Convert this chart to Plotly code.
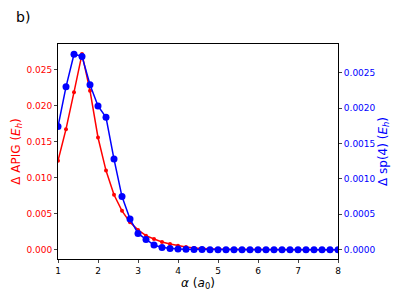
import plotly.graph_objects as go

alpha = [1.0, 1.2, 1.4, 1.6, 1.8, 2.0, 2.2, 2.4, 2.6, 2.8, 3.0, 3.2, 3.4, 3.6, 3.8,
         4.0, 4.2, 4.4, 4.6, 4.8, 5.0, 5.2, 5.4, 5.6, 5.8, 6.0, 6.2, 6.4, 6.6, 6.8,
         7.0, 7.2, 7.4, 7.6, 7.8, 8.0]
apig = [0.01236, 0.01676, 0.0219, 0.0272, 0.0221, 0.0156, 0.0110, 0.00764, 0.0054, 0.0038,
        0.00275, 0.00194, 0.00148, 0.00106, 0.00079, 0.00056, 0.00037, 0.00023, 0.00015, 0.0001,
        0.00006, 0.00004, 0.00003, 0.00002, 0.00001, 0.00001, 0.0, 0.0, 0.0, 0.0,
        0.0, 0.0, 0.0, 0.0, 0.0, 0.0]
sp4 = [0.00174, 0.0023, 0.00276, 0.00273, 0.00233, 0.00203, 0.00187, 0.00128, 0.00075, 0.000433,
       0.00023, 0.000146, 0.000066, 0.000033, 0.000019, 0.00001, 0.000005, 0.000003, 0.000002, 0.000001,
       0.0, 0.0, 0.0, 0.0, 0.0, 0.0, 0.0, 0.0, 0.0, 0.0,
       0.0, 0.0, 0.0, 0.0, 0.0, 0.0]
left_ticks = [0.0, 0.005, 0.01, 0.015, 0.02, 0.025]
right_ticks = [0.0, 0.0005, 0.001, 0.0015, 0.002, 0.0025]
x_ticks = [1, 2, 3, 4, 5, 6, 7, 8]

FONT = "DejaVu Sans"

fig = go.Figure()
fig.add_trace(go.Scatter(x=alpha, y=apig, mode="lines+markers",
                         line=dict(color="red", width=1.5),
                         marker=dict(color="red", size=4, symbol="circle"),
                         yaxis="y", showlegend=False))
fig.add_trace(go.Scatter(x=alpha, y=sp4, mode="lines+markers",
                         line=dict(color="blue", width=1.5),
                         marker=dict(color="blue", size=7, symbol="circle"),
                         yaxis="y2", showlegend=False))

fig.update_layout(
    width=395, height=294,
    margin=dict(l=50, r=65, t=36, b=43, autoexpand=False),
    paper_bgcolor="white", plot_bgcolor="white",
    font=dict(family=FONT, size=9, color="black"),
    xaxis=dict(range=[1, 8], tickvals=x_ticks, ticks="outside", ticklen=3,
               showline=True, linecolor="black", linewidth=1, mirror=True,
               showgrid=False, zeroline=False, automargin=False,
               tickfont=dict(size=9, color="black"),
               title=dict(text="<i>α</i> (<i>a</i><sub>0</sub>)", font=dict(size=12, color="black"), standoff=3)),
    yaxis=dict(range=[-0.0013, 0.0286], tickvals=left_ticks, tickformat=".3f",
               ticks="outside", ticklen=3, showline=True, linecolor="black", linewidth=1,
               showgrid=False, zeroline=False, automargin=False,
               tickfont=dict(size=9, color="red"),
               title=dict(text="Δ APIG (<i>E</i><sub><i>h</i></sub>)", font=dict(size=12, color="red"), standoff=3)),
    yaxis2=dict(range=[-0.000131, 0.002905], tickvals=right_ticks, tickformat=".4f",
                overlaying="y", side="right",
                ticks="outside", ticklen=3, showline=True, linecolor="black", linewidth=1,
                showgrid=False, zeroline=False, automargin=False,
                tickfont=dict(size=9, color="blue"),
                title=dict(text="Δ sp(4) (<i>E</i><sub><i>h</i></sub>)", font=dict(size=12, color="blue"), standoff=3)),
    annotations=[dict(text="b)", x=(14 - 58) / 280, y=1 + (44 - 17) / 215,
                      xref="paper", yref="paper", xanchor="left", yanchor="middle",
                      showarrow=False, font=dict(size=14, color="black"))],
)

fig.write_html("out.html")
